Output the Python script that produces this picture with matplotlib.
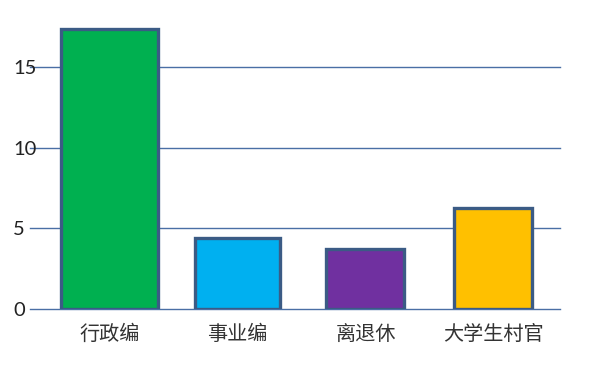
import matplotlib.pyplot as plt

# data
categories = ['行政编', '事业编', '离退休', '大学生村官']
counts = [17.4, 4.4, 3.7, 6.3]
bar_colors = ['#00b050', '#00b0f0', '#7030a0', '#ffc000']
bar_widths = [0.76, 0.66, 0.61, 0.61]
y_ticks = [0, 5, 10, 15]

plt.rcParams['font.family'] = ['Noto Sans CJK SC', 'DejaVu Sans']

fig = plt.figure(figsize=(6.15, 3.77), dpi=100)
ax = fig.add_axes([30 / 615, 1 - 309 / 377, 530 / 615, (309 - 19) / 377])

# gridlines
for t in y_ticks:
    ax.axhline(t, color='#4a6fa5', linewidth=1.0, zorder=1, clip_on=False)

x = list(range(len(categories)))
ax.bar(x, counts, width=bar_widths, color=bar_colors,
       edgecolor='#3b5b85', linewidth=2.4, zorder=2)

ax.set_xlim(-0.62, 3.52)
ax.set_ylim(0, 18)

ax.set_yticks(y_ticks)
ax.set_yticklabels([str(t) for t in y_ticks], fontsize=14.5,
                   family=['Lato', 'DejaVu Sans'], color='#222222')
for lbl in ax.get_yticklabels():
    lbl.set_horizontalalignment('left')
ax.tick_params(axis='y', length=0, pad=12)

ax.set_xticks(x)
ax.set_xticklabels(categories, fontsize=14.5, color='#333333', fontweight='light')
ax.tick_params(axis='x', length=0, pad=11)

for s in ax.spines.values():
    s.set_visible(False)

fig.savefig('out.png', dpi=100)
